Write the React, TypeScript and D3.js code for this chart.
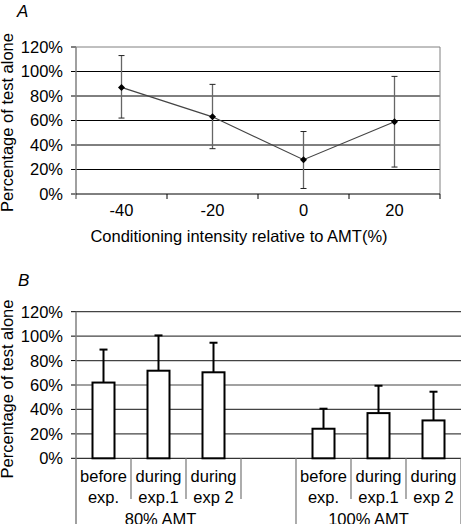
import React from "react";
import * as d3 from "d3";

// ---------- Panel A data ----------
const intensityLabels = ["-40", "-20", "0", "20"];
const meanA = [87, 63, 28, 59];
const upperA = [113, 89.5, 51, 96];
const lowerA = [62, 37, 4.5, 22];

// ---------- Panel B data ----------
const phaseLine1 = ["before", "during", "during", "", "before", "during", "during"];
const phaseLine2 = ["exp.", "exp.1", "exp 2", "", "exp.", "exp.1", "exp 2"];
const meanB: (number | null)[] = [62, 71.7, 70.4, null, 24.2, 37, 31];
const upperB: (number | null)[] = [89, 100.6, 94.6, null, 40.6, 59.4, 54.5];
const groupNames = ["80% AMT", "100% AMT"];
const groupSlots = [[0, 2], [4, 6]];

const yTicks = [0, 20, 40, 60, 80, 100, 120];

const FONT = "Liberation Sans, Arial, sans-serif";

export default function App() {
  const W = 461, H = 524;

  // Panel A scales
  const axL = 76, axR = 440, ayTop = 47, ayBot = 194;
  const xA = d3.scaleBand<string>().domain(intensityLabels).range([axL, axR]);
  const yA = d3.scaleLinear().domain([0, 120]).range([ayBot, ayTop]);
  const lineA = d3.line<number>()
    .x((_, i) => (xA(intensityLabels[i]) as number) + xA.bandwidth() / 2)
    .y((d) => yA(d));

  // Panel B scales
  const bxL = 76, bxR = 461, byTop = 311.7, byBot = 458.3;
  const slotIdx = phaseLine1.map((_, i) => String(i));
  const xB = d3.scaleBand<string>().domain(slotIdx).range([bxL, bxR]);
  const yB = d3.scaleLinear().domain([0, 120]).range([byBot, byTop]);
  const bw = xB.bandwidth();
  const barW = bw * 0.4;

  const gray = "#808080";
  const fs = 16.5;

  return (
    <svg width={W} height={H} style={{ position: "absolute", left: 0, top: 0, background: "#fff" }} fontFamily={FONT}>
      <rect x={0} y={0} width={W} height={H} fill="#fff" />
      {/* ===== Panel A ===== */}
      <text x={17} y={17} fontSize={17} fontStyle="italic">A</text>
      <text transform={`translate(13,${(ayTop + ayBot) / 2 + 2}) rotate(-90)`} textAnchor="middle" fontSize={fs}>
        Percentage of test alone
      </text>
      {yTicks.map((t) => (
        <g key={"ga" + t}>
          {t > 0 && t < 120 && (
            <line x1={axL} x2={axR} y1={yA(t)} y2={yA(t)} stroke="#000" strokeWidth={1} />
          )}
          <line x1={axL - 5} x2={axL} y1={yA(t)} y2={yA(t)} stroke="#000" />
          <text x={63} y={yA(t)} dy="0.36em" textAnchor="end" fontSize={fs}>{t}%</text>
        </g>
      ))}
      {/* frame */}
      <line x1={axL} x2={axR} y1={ayTop} y2={ayTop} stroke={gray} />
      <line x1={axR} x2={axR} y1={ayTop} y2={ayBot} stroke={gray} />
      <line x1={axL} x2={axL} y1={ayTop} y2={ayBot + 5} stroke={gray} strokeWidth={1.5} />
      <line x1={axL} x2={axR} y1={ayBot} y2={ayBot} stroke="#000" />
      {/* x ticks */}
      {intensityLabels.map((c) => (
        <g key={"xa" + c}>
          <line x1={(xA(c) as number) + xA.bandwidth()} x2={(xA(c) as number) + xA.bandwidth()} y1={ayBot} y2={ayBot + 5} stroke="#000" />
          <text x={(xA(c) as number) + xA.bandwidth() / 2} y={215.5} textAnchor="middle" fontSize={fs}>{c}</text>
        </g>
      ))}
      <text x={239} y={241.5} textAnchor="middle" fontSize={fs}>Conditioning intensity relative to AMT(%)</text>
      {/* error bars */}
      {intensityLabels.map((c, i) => {
        const cx = (xA(c) as number) + xA.bandwidth() / 2;
        return (
          <g key={"ea" + c}>
            <line x1={cx} x2={cx} y1={yA(upperA[i])} y2={yA(lowerA[i])} stroke="#666" strokeWidth={1.3} />
            <line x1={cx - 3} x2={cx + 3} y1={yA(upperA[i])} y2={yA(upperA[i])} stroke="#222" />
            <line x1={cx - 3} x2={cx + 3} y1={yA(lowerA[i])} y2={yA(lowerA[i])} stroke="#222" />
          </g>
        );
      })}
      <path d={lineA(meanA) || ""} fill="none" stroke="#444" strokeWidth={1.2} />
      {intensityLabels.map((c, i) => {
        const cx = (xA(c) as number) + xA.bandwidth() / 2;
        const cy = yA(meanA[i]);
        return (
          <path key={"ma" + c} d={`M${cx},${cy - 3.5}L${cx + 3.5},${cy}L${cx},${cy + 3.5}L${cx - 3.5},${cy}Z`} fill="#000" />
        );
      })}

      {/* ===== Panel B ===== */}
      <text x={18} y={286} fontSize={17} fontStyle="italic">B</text>
      <text transform={`translate(13,389) rotate(-90)`} textAnchor="middle" fontSize={fs}>
        Percentage of test alone
      </text>
      {yTicks.map((t) => (
        <g key={"gb" + t}>
          {t > 0 && (
            <line x1={bxL} x2={bxR} y1={yB(t)} y2={yB(t)} stroke="#444" strokeWidth={1.2} />
          )}
          <line x1={bxL - 5} x2={bxL} y1={yB(t)} y2={yB(t)} stroke="#000" />
          <text x={63} y={yB(t)} dy="0.36em" textAnchor="end" fontSize={fs}>{t}%</text>
        </g>
      ))}
      <line x1={bxL} x2={bxR} y1={byBot} y2={byBot} stroke="#000" />
      <line x1={bxL} x2={bxL} y1={byTop} y2={H} stroke={gray} strokeWidth={1.5} />
      {/* category separators */}
      {slotIdx.map((s, i) => {
        const xr = (xB(s) as number) + bw;
        const groupEnd = i === 3 || i === 6;
        return (
          <line key={"sep" + s} x1={xr} x2={xr} y1={byBot} y2={groupEnd ? H : 499} stroke={gray} strokeWidth={1.3} />
        );
      })}
      {/* category labels */}
      {slotIdx.map((s, i) => {
        const cx = (xB(s) as number) + bw / 2;
        return (
          <g key={"cl" + s}>
            <text x={cx} y={482} textAnchor="middle" fontSize={fs}>{phaseLine1[i]}</text>
            <text x={cx} y={503} textAnchor="middle" fontSize={fs}>{phaseLine2[i]}</text>
          </g>
        );
      })}
      {groupNames.map((g, gi) => {
        const [a, b] = groupSlots[gi];
        const x0 = xB(String(a)) as number;
        const x1 = (xB(String(b)) as number) + bw;
        const cx = (x0 + x1) / 2 - (gi === 1 ? 10 : -2);
        return (
          <text key={"gn" + g} x={cx} y={525} textAnchor="middle" fontSize={fs}>{g}</text>
        );
      })}
      {/* bars */}
      {slotIdx.map((s, i) => {
        const v = meanB[i];
        const u = upperB[i];
        if (v == null || u == null) return null;
        const cx = (xB(s) as number) + bw / 2;
        return (
          <g key={"bar" + s}>
            <line x1={cx} x2={cx} y1={yB(v)} y2={yB(u)} stroke="#000" strokeWidth={2} />
            <line x1={cx - 4} x2={cx + 4} y1={yB(u)} y2={yB(u)} stroke="#000" strokeWidth={2} />
            <rect x={cx - barW / 2} y={yB(v)} width={barW} height={byBot - yB(v)} fill="#fff" stroke="#000" strokeWidth={2} />
          </g>
        );
      })}
    </svg>
  );
}
